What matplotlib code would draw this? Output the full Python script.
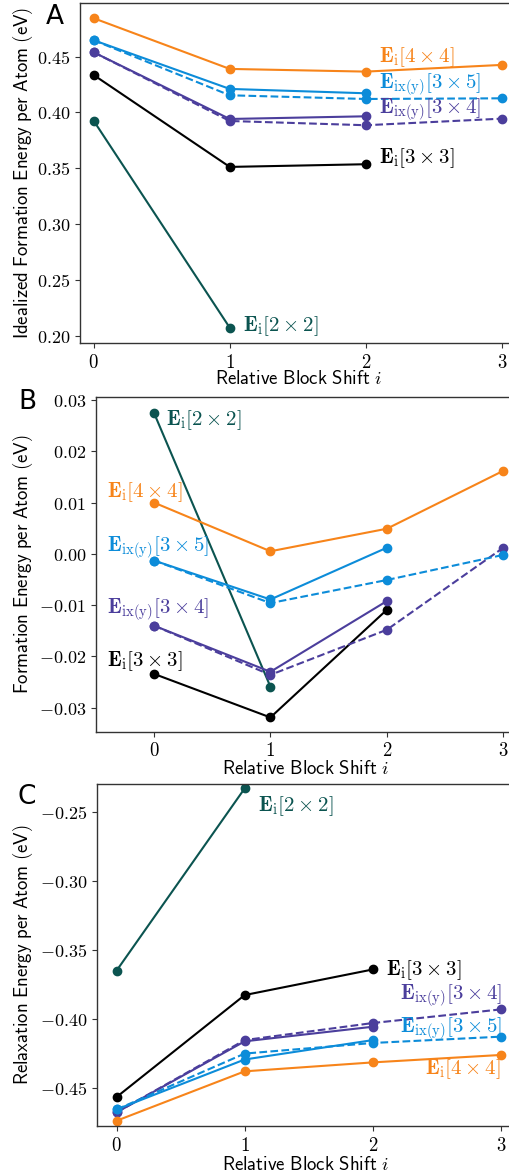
import matplotlib
matplotlib.use("Agg")
import matplotlib.pyplot as plt
import numpy as np

plt.rcParams['mathtext.fontset'] = 'cm'

# ---------------- data ----------------
shift4 = [0, 1, 2, 3]
shift3 = [0, 1, 2]
shift2 = [0, 1]

# Panel A: idealized formation energy per atom (eV)
A_4x4 = [0.4844, 0.4390, 0.4366, 0.4426]
A_3x5 = [0.4647, 0.4211, 0.4172]
A_3x5_xy = [0.4647, 0.4154, 0.4121, 0.4127]
A_3x4 = [0.4539, 0.3942, 0.3966]
A_3x4_xy = [0.4539, 0.3924, 0.3886, 0.3945]
A_3x3 = [0.4336, 0.3513, 0.3537]
A_2x2 = [0.3927, 0.2074]

# Panel B: formation energy per atom (eV)
B_4x4 = [0.0100, 0.0005, 0.0049, 0.0162]
B_3x5 = [-0.0013, -0.0089, 0.0012]
B_3x5_xy = [-0.0013, -0.0096, -0.0051, -0.0002]
B_3x4 = [-0.0140, -0.0230, -0.0092]
B_3x4_xy = [-0.0140, -0.0236, -0.0148, 0.0012]
B_3x3 = [-0.0234, -0.0319, -0.0109]
B_2x2 = [0.0275, -0.0259]

# Panel C: relaxation energy per atom (eV)
C_4x4 = [-0.4740, -0.4381, -0.4316, -0.4262]
C_3x5 = [-0.4658, -0.4295, -0.4154]
C_3x5_xy = [-0.4658, -0.4252, -0.4175, -0.4129]
C_3x4 = [-0.4679, -0.4163, -0.4057]
C_3x4_xy = [-0.4679, -0.4154, -0.4030, -0.3931]
C_3x3 = [-0.4568, -0.3827, -0.3641]
C_2x2 = [-0.3650, -0.2326]

lab_4x4 = r'$\mathbf{E}_\mathrm{i}[\mathbf{4}\times\mathbf{4}]$'
lab_3x5 = r'$\mathbf{E}_\mathrm{ix(y)}[\mathbf{3}\times\mathbf{5}]$'
lab_3x4 = r'$\mathbf{E}_\mathrm{ix(y)}[\mathbf{3}\times\mathbf{4}]$'
lab_3x3 = r'$\mathbf{E}_\mathrm{i}[\mathbf{3}\times\mathbf{3}]$'
lab_2x2 = r'$\mathbf{E}_\mathrm{i}[\mathbf{2}\times\mathbf{2}]$'

ylabels = [r'$\mathsf{Idealized\ Formation\ Energy\ per\ Atom\ (eV)}$',
           r'$\mathsf{Formation\ Energy\ per\ Atom\ (eV)}$',
           r'$\mathsf{Relaxation\ Energy\ per\ Atom\ (eV)}$']
xlabel = r'$\mathsf{Relative\ Block\ Shift}\ i$'

# ---------------- styles ----------------
c_or = '#F7841A'
c_bl = '#0C8CD9'
c_pu = '#4B3E9C'
c_bk = '#000000'
c_te = '#0B5450'

W, H = 510, 1176
fig = plt.figure(figsize=(W / 100, H / 100), dpi=100)

def ax_px(left, top, right, bottom):
    return fig.add_axes([left / W, 1 - bottom / H, (right - left) / W, (bottom - top) / H])

axA = ax_px(80, 3, 515.6, 343)
axB = ax_px(95.7, 396.7, 515, 731.7)
axC = ax_px(97.3, 784, 513.8, 1126)

kw = dict(marker='o', markersize=6, linewidth=1.5)

def draw(ax, d4, d35, d35x, d34, d34x, d33, d22):
    ax.plot(shift2, d22, color=c_te, **kw)
    ax.plot(shift3, d33, color=c_bk, **kw)
    ax.plot(shift3, d34, color=c_pu, **kw)
    ax.plot(shift4, d34x, color=c_pu, linestyle='--', **kw)
    ax.plot(shift3, d35, color=c_bl, **kw)
    ax.plot(shift4, d35x, color=c_bl, linestyle='--', **kw)
    ax.plot(shift4, d4, color=c_or, **kw)

draw(axA, A_4x4, A_3x5, A_3x5_xy, A_3x4, A_3x4_xy, A_3x3, A_2x2)
draw(axB, B_4x4, B_3x5, B_3x5_xy, B_3x4, B_3x4_xy, B_3x3, B_2x2)
draw(axC, C_4x4, C_3x5, C_3x5_xy, C_3x4, C_3x4_xy, C_3x3, C_2x2)

axA.set_xlim(-0.1, 3.1)
axA.set_ylim(0.1937, 0.498)
axA.set_yticks(np.arange(0.20, 0.451, 0.05))
axB.set_xlim(-0.5, 3.1)
axB.set_ylim(-0.03468, 0.03064)
axB.set_yticks(np.arange(-0.03, 0.031, 0.01))
axC.set_xlim(-0.15, 3.1)
axC.set_ylim(-0.4778, -0.2294)
axC.set_yticks(np.arange(-0.45, -0.249, 0.05))

fs_tick = 13
for ax in (axA, axB, axC):
    ax.set_xticks(shift4)
    ax.set_xticklabels([r'$\mathsf{%d}$' % v for v in shift4], fontsize=fs_tick + 0.5)
    yt = ax.get_yticks()
    ax.set_yticklabels([r'$%.2f$' % (0.0 if abs(v) < 1e-9 else v) for v in yt], fontsize=fs_tick)
    for s in ax.spines.values():
        s.set_color('#333333')
        s.set_linewidth(1.0)
    ax.tick_params(colors='#333333', labelcolor='black')

fs_lab = 15
# Panel A annotations
axA.text(2.10, 0.4497, lab_4x4, color=c_or, fontsize=fs_lab, va='center', ha='left')
axA.text(2.10, 0.4247, lab_3x5, color=c_bl, fontsize=fs_lab, va='center', ha='left')
axA.text(2.10, 0.4023, lab_3x4, color=c_pu, fontsize=fs_lab, va='center', ha='left')
axA.text(2.10, 0.3590, lab_3x3, color=c_bk, fontsize=fs_lab, va='center', ha='left')
axA.text(1.097, 0.2091, lab_2x2, color=c_te, fontsize=fs_lab, va='center', ha='left')
# Panel B annotations
axB.text(0.106, 0.0261, lab_2x2, color=c_te, fontsize=fs_lab, va='center', ha='left')
axB.text(-0.40, 0.01212, lab_4x4, color=c_or, fontsize=fs_lab, va='center', ha='left')
axB.text(-0.40, 0.00108, lab_3x5, color=c_bl, fontsize=fs_lab, va='center', ha='left')
axB.text(-0.40, -0.01095, lab_3x4, color=c_pu, fontsize=fs_lab, va='center', ha='left')
axB.text(-0.40, -0.02086, lab_3x3, color=c_bk, fontsize=fs_lab, va='center', ha='left')
# Panel C annotations
axC.text(1.101, -0.2456, lab_2x2, color=c_te, fontsize=fs_lab, va='center', ha='left')
axC.text(2.102, -0.3643, lab_3x3, color=c_bk, fontsize=fs_lab, va='center', ha='left')
axC.text(3.006, -0.3832, lab_3x4, color=c_pu, fontsize=fs_lab, va='center', ha='right')
axC.text(3.006, -0.4069, lab_3x5, color=c_bl, fontsize=fs_lab, va='center', ha='right')
axC.text(2.993, -0.4363, lab_4x4, color=c_or, fontsize=fs_lab, va='center', ha='right')

# axis labels
fs_ax = 13.5
for yc, lab in zip([173, 564, 955], ylabels):
    fig.text(23 / W, 1 - yc / H, lab, rotation=90, ha='center', va='center', fontsize=fs_ax)
for xc, yc in zip([298, 305, 305.5], [379, 769, 1164]):
    fig.text(xc / W, 1 - yc / H, xlabel, ha='center', va='center', fontsize=fs_ax)

# panel letters
fig.text(55 / W, 1 - 17 / H, 'A', ha='center', va='center', fontsize=19)
fig.text(27 / W, 1 - 402 / H, 'B', ha='center', va='center', fontsize=19)
fig.text(27 / W, 1 - 797 / H, 'C', ha='center', va='center', fontsize=19)

fig.savefig('out.png', dpi=100)
